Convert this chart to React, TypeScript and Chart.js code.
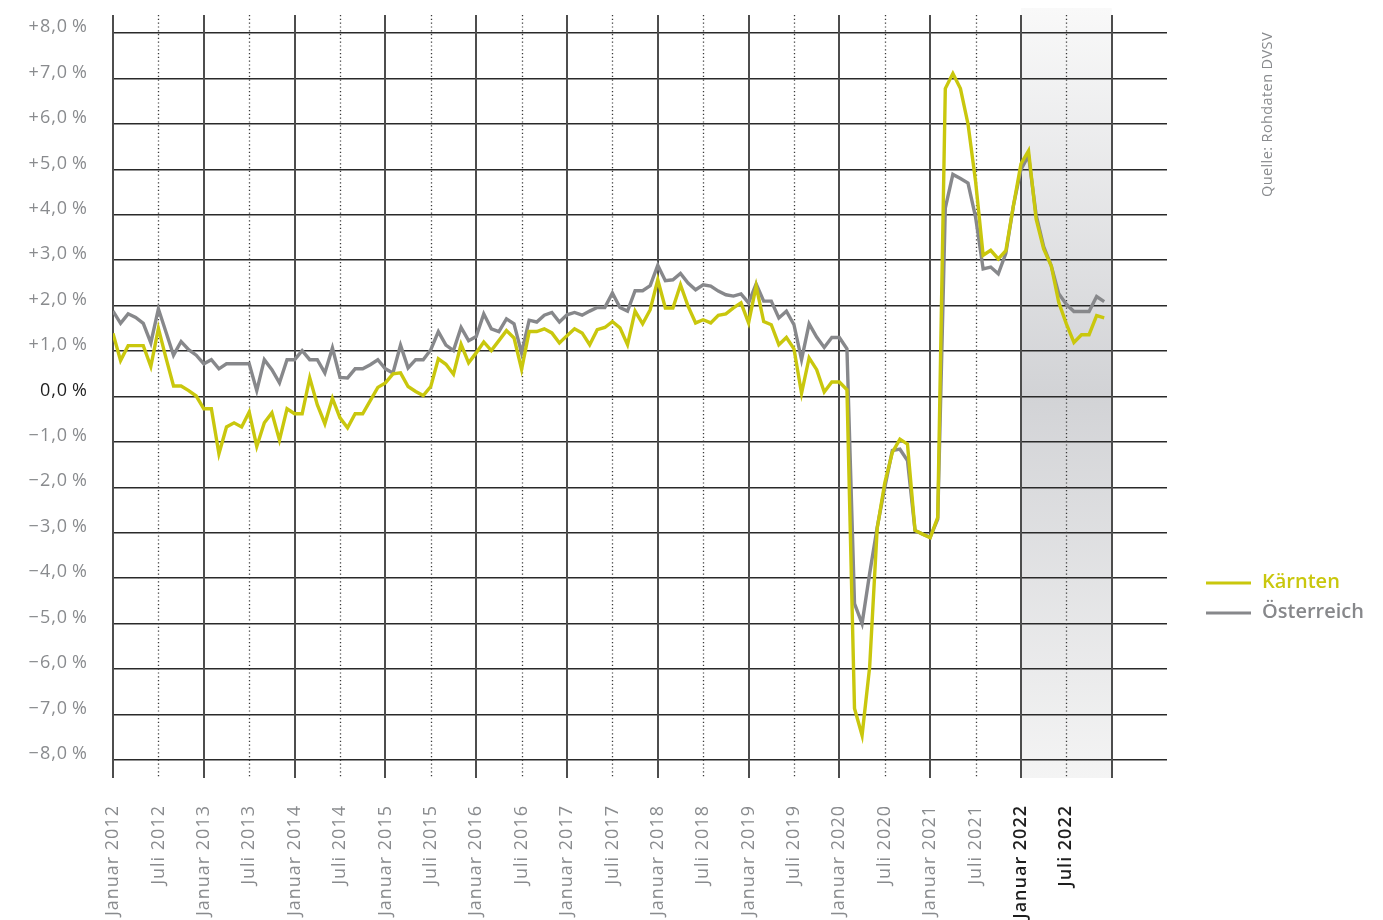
import React, { useEffect, useRef } from 'react';
import { Chart, registerables } from 'chart.js';

Chart.register(...registerables);

// Monthly year-on-year change in employment (%), Jan 2012 – Dec 2022
const KAERNTEN: number[] = [
  1.39, 0.79, 1.12, 1.12, 1.12, 0.66, 1.50, 0.85, 0.23, 0.23, 0.13, 0.01,
  -0.27, -0.27, -1.26, -0.67, -0.58, -0.67, -0.34, -1.10, -0.58, -0.36, -0.96, -0.27,
  -0.38, -0.38, 0.41, -0.18, -0.60, -0.04, -0.47, -0.69, -0.38, -0.38, -0.09, 0.20,
  0.30, 0.50, 0.52, 0.22, 0.11, 0.02, 0.22, 0.83, 0.71, 0.49, 1.15, 0.74,
  0.96, 1.20, 1.01, 1.23, 1.45, 1.29, 0.60, 1.43, 1.43, 1.49, 1.40, 1.18,
  1.34, 1.49, 1.40, 1.14, 1.47, 1.52, 1.65, 1.51, 1.14, 1.88, 1.60, 1.91,
  2.57, 1.95, 1.95, 2.46, 1.99, 1.62, 1.69, 1.62, 1.79, 1.82, 1.95, 2.06,
  1.62, 2.43, 1.65, 1.58, 1.14, 1.30, 1.05, 0.07, 0.85, 0.59, 0.10, 0.32,
  0.32, 0.15, -6.87, -7.46, -5.96, -2.90, -1.90, -1.23, -0.94, -1.05, -2.95, -3.03,
  -3.11, -2.66, 6.78, 7.11, 6.78, 6.00, 4.74, 3.11, 3.22, 3.03, 3.21, 4.20,
  5.12, 5.41, 3.91, 3.25, 2.88, 2.07, 1.60, 1.19, 1.36, 1.36, 1.78, 1.73,
];

const OESTERREICH: number[] = [
  1.88, 1.61, 1.82, 1.74, 1.61, 1.18, 1.93, 1.42, 0.91, 1.21, 1.03, 0.91,
  0.72, 0.81, 0.61, 0.72, 0.72, 0.72, 0.72, 0.13, 0.81, 0.59, 0.30, 0.81,
  0.81, 1.01, 0.81, 0.81, 0.52, 1.07, 0.42, 0.41, 0.61, 0.61, 0.70, 0.81,
  0.61, 0.52, 1.13, 0.63, 0.81, 0.81, 1.03, 1.43, 1.13, 1.01, 1.52, 1.23,
  1.32, 1.82, 1.49, 1.43, 1.71, 1.60, 0.96, 1.68, 1.64, 1.79, 1.85, 1.64,
  1.80, 1.85, 1.79, 1.88, 1.96, 1.96, 2.28, 1.96, 1.88, 2.33, 2.33, 2.44,
  2.89, 2.55, 2.57, 2.71, 2.50, 2.35, 2.46, 2.43, 2.32, 2.24, 2.21, 2.26,
  2.06, 2.48, 2.10, 2.10, 1.73, 1.88, 1.58, 0.81, 1.60, 1.31, 1.08, 1.30,
  1.30, 1.05, -4.56, -5.00, -3.90, -2.88, -2.00, -1.19, -1.16, -1.41, -2.95, -3.03,
  -3.10, -2.70, 4.15, 4.89, 4.80, 4.70, 3.95, 2.81, 2.85, 2.70, 3.15, 4.20,
  5.00, 5.30, 4.00, 3.30, 2.88, 2.26, 2.03, 1.87, 1.87, 1.87, 2.20, 2.09,
];

const SERIES_LABELS = ['Kärnten', 'Österreich'];

const X_TICK_LABELS = [
  'Januar 2012', 'Juli 2012', 'Januar 2013', 'Juli 2013', 'Januar 2014', 'Juli 2014',
  'Januar 2015', 'Juli 2015', 'Januar 2016', 'Juli 2016', 'Januar 2017', 'Juli 2017',
  'Januar 2018', 'Juli 2018', 'Januar 2019', 'Juli 2019', 'Januar 2020', 'Juli 2020',
  'Januar 2021', 'Juli 2021', 'Januar 2022', 'Juli 2022',
];

const Y_TICK_VALUES = [-8, -7, -6, -5, -4, -3, -2, -1, 0, 1, 2, 3, 4, 5, 6, 7, 8];

const SOURCE_TEXT = 'Quelle: Rohdaten DVSV';

// shaded period (month index from Jan 2012): Jan 2022 – Jan 2023
const HIGHLIGHT_FROM = 120;
const HIGHLIGHT_TO = 132;
const YEAR_LINES_END = 132; // Jan 2023

const YELLOW = '#c9c70d';
const GREY = '#87888b';
const LABEL_GREY = '#898b8e';
const DARK = '#1e1e1e';
const FONT = "'Open Sans', 'Noto Sans', sans-serif";

function fmtPct(v: number): string {
  const sign = v > 0 ? '+' : v < 0 ? '\u2212' : '';
  return sign + Math.abs(v).toFixed(1).replace('.', ',') + '\u2009%';
}

const decorPlugin = {
  id: 'decor',
  beforeLayout(chart: any) {
    chart.ctx.letterSpacing = '1px';
  },
  beforeDraw(chart: any) {
    const { ctx, chartArea, scales } = chart;
    const x = scales.x;
    ctx.letterSpacing = '1px';
    const x0 = x.getPixelForValue(HIGHLIGHT_FROM);
    const x1 = x.getPixelForValue(HIGHLIGHT_TO);
    const top = chartArea.top - 7;
    const g = ctx.createLinearGradient(0, top, 0, chartArea.bottom);
    g.addColorStop(0, '#f9f9f9');
    g.addColorStop(0.5, '#d2d3d6');
    g.addColorStop(1, '#f4f4f4');
    ctx.save();
    ctx.fillStyle = g;
    ctx.fillRect(x0, top, x1 - x0, chartArea.bottom - top);
    ctx.restore();
  },
  beforeDatasetsDraw(chart: any) {
    const { ctx, chartArea, scales } = chart;
    const x = scales.x;
    ctx.save();
    for (let m = 0; m <= YEAR_LINES_END; m += 6) {
      const px = Math.round(x.getPixelForValue(m));
      ctx.beginPath();
      if (m % 12 === 0) {
        ctx.setLineDash([]);
        ctx.strokeStyle = '#4d4d4d';
        ctx.lineWidth = 2;
        ctx.moveTo(px, chartArea.top);
        ctx.lineTo(px, chartArea.bottom);
      } else {
        ctx.setLineDash([1.2, 2.6]);
        ctx.strokeStyle = '#3a3a3a';
        ctx.lineWidth = 1.3;
        ctx.moveTo(px + 0.5, chartArea.top);
        ctx.lineTo(px + 0.5, chartArea.bottom);
      }
      ctx.stroke();
    }
    ctx.restore();
  },
  afterDraw(chart: any) {
    const { ctx } = chart;
    ctx.save();
    ctx.letterSpacing = '0px';
    const lx = 1206;
    const ys = [583, 613];
    chart.data.datasets.forEach((ds: any, i: number) => {
      ctx.strokeStyle = ds.borderColor;
      ctx.lineWidth = 3;
      ctx.beginPath();
      ctx.moveTo(lx, ys[i]);
      ctx.lineTo(lx + 45, ys[i]);
      ctx.stroke();
      ctx.fillStyle = ds.borderColor;
      ctx.font = `600 20px ${FONT}`;
      ctx.textAlign = 'left';
      ctx.textBaseline = 'middle';
      ctx.fillText(ds.label, lx + 56, ys[i] - 1);
    });
    ctx.translate(1268, 197);
    ctx.rotate(-Math.PI / 2);
    ctx.fillStyle = LABEL_GREY;
    ctx.font = `400 14.5px ${FONT}`;
    ctx.letterSpacing = '0.4px';
    ctx.textAlign = 'left';
    ctx.textBaseline = 'middle';
    ctx.fillText(SOURCE_TEXT, 0, 0);
    ctx.restore();
  },
};

export default function App() {
  const ref = useRef<HTMLCanvasElement>(null);
  useEffect(() => {
    document.body.style.margin = '0';
    const canvas = ref.current!;
    const chart = new Chart(canvas, {
      type: 'line',
      data: {
        datasets: [
          {
            label: SERIES_LABELS[0],
            data: KAERNTEN.map((v, i) => ({ x: i, y: v })),
            borderColor: YELLOW,
            backgroundColor: YELLOW,
            borderWidth: 3.4,
            pointRadius: 0,
            tension: 0,
          },
          {
            label: SERIES_LABELS[1],
            data: OESTERREICH.map((v, i) => ({ x: i, y: v })),
            borderColor: GREY,
            backgroundColor: GREY,
            borderWidth: 3.4,
            pointRadius: 0,
            tension: 0,
          },
        ],
      },
      options: {
        animation: false,
        responsive: false,
        events: [],
        layout: { padding: { top: 15, right: 216, left: 0, bottom: 0 } },
        plugins: {
          legend: { display: false },
          tooltip: { enabled: false },
        },
        scales: {
          x: {
            type: 'linear',
            min: 0,
            max: 139.3,
            border: { display: false },
            grid: { display: false, drawTicks: false },
            afterBuildTicks: (s: any) => {
              s.ticks = X_TICK_LABELS.map((_, i) => ({ value: i * 6 }));
            },
            afterFit: (s: any) => {
              s.height = 142;
              s.paddingLeft = 0;
              s.paddingRight = 0;
            },
            ticks: {
              autoSkip: false,
              minRotation: 90,
              maxRotation: 90,
              padding: 27,
              font: (c: any) => ({
                family: FONT,
                size: 18,
                weight: c.index >= 20 ? '600' : '500',
              }),
              color: (c: any) => (c.index >= 20 ? DARK : LABEL_GREY),
              callback: (_v: any, i: number) => X_TICK_LABELS[i],
            },
          },
          y: {
            type: 'linear',
            min: -8.4,
            max: 8.4,
            border: { display: false },
            grid: { color: '#2a2a2a', lineWidth: 1.6, drawTicks: false },
            afterBuildTicks: (s: any) => {
              s.ticks = Y_TICK_VALUES.map((v) => ({ value: v }));
            },
            afterFit: (s: any) => {
              s.width = 113;
              s.paddingTop = 0;
              s.paddingBottom = 0;
            },
            ticks: {
              padding: 25,
              labelOffset: -6,
              font: { family: FONT, size: 18, weight: '500' },
              color: (c: any) => (c.tick && c.tick.value === 0 ? DARK : LABEL_GREY),
              callback: (v: any) => fmtPct(Number(v)),
            },
          },
        },
      },
      plugins: [decorPlugin],
    } as any);
    return () => chart.destroy();
  }, []);
  return (
    <div style={{ width: 1383, height: 920 }}>
      <canvas ref={ref} width={1383} height={920} style={{ display: 'block' }} />
    </div>
  );
}
